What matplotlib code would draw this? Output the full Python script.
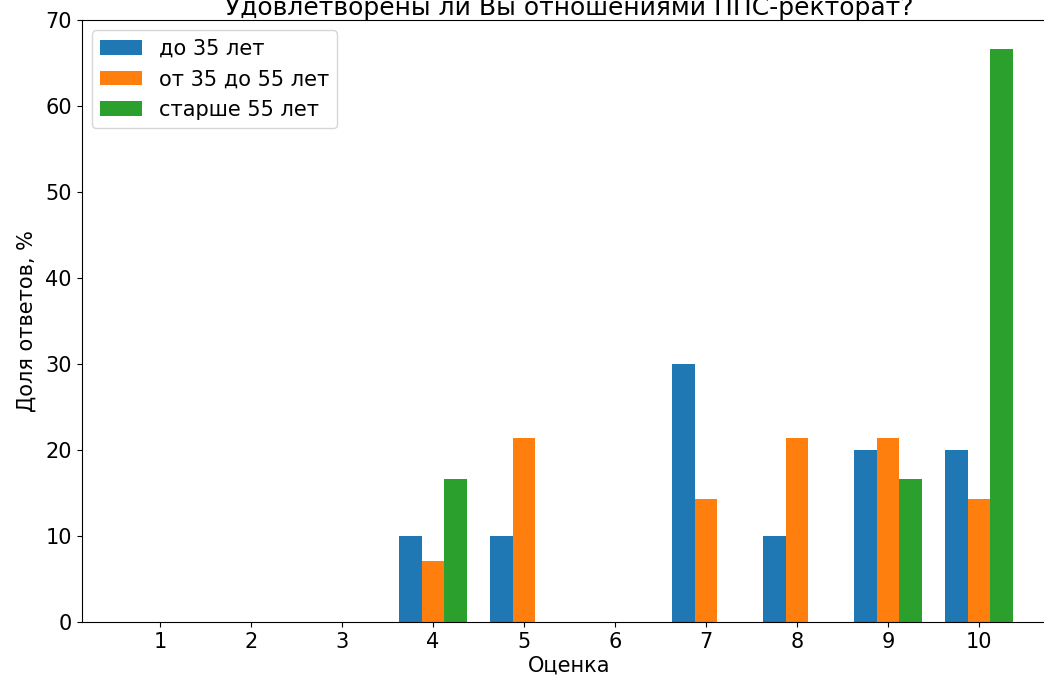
import numpy as np
import matplotlib
matplotlib.use("Agg")
from matplotlib import pyplot as plt

scores = [1, 2, 3, 4, 5, 6, 7, 8, 9, 10]
young = [0, 0, 0, 10, 10, 0, 30, 10, 20, 20]
middle = [0, 0, 0, 7.14, 21.43, 0, 14.29, 21.43, 21.43, 14.29]
senior = [0, 0, 0, 16.67, 0, 0, 0, 0, 16.67, 66.67]
labels = ["до 35 лет", "от 35 до 55 лет", "старше 55 лет"]

plt.rcParams['font.size'] = 15

fig = plt.figure(figsize=(10.44, 6.84), dpi=100)
ax = fig.add_axes([81.5 / 1044, 62 / 684, 976 / 1044, 602 / 684])

x = np.array(scores)
w = 0.25
ax.bar(x - w, young, width=w, label=labels[0])
ax.bar(x, middle, width=w, label=labels[1])
ax.bar(x + w, senior, width=w, label=labels[2])

ax.set_xticks(x)
ax.set_ylim(0, 70)
ax.set_xlabel("Оценка", labelpad=3)
ax.set_ylabel("Доля ответов, %", labelpad=6)
ax.set_title("Удовлетворены ли Вы отношениями ППС-ректорат?", pad=3)
ax.legend(loc="upper left")

fig.savefig("out.png", dpi=100)
